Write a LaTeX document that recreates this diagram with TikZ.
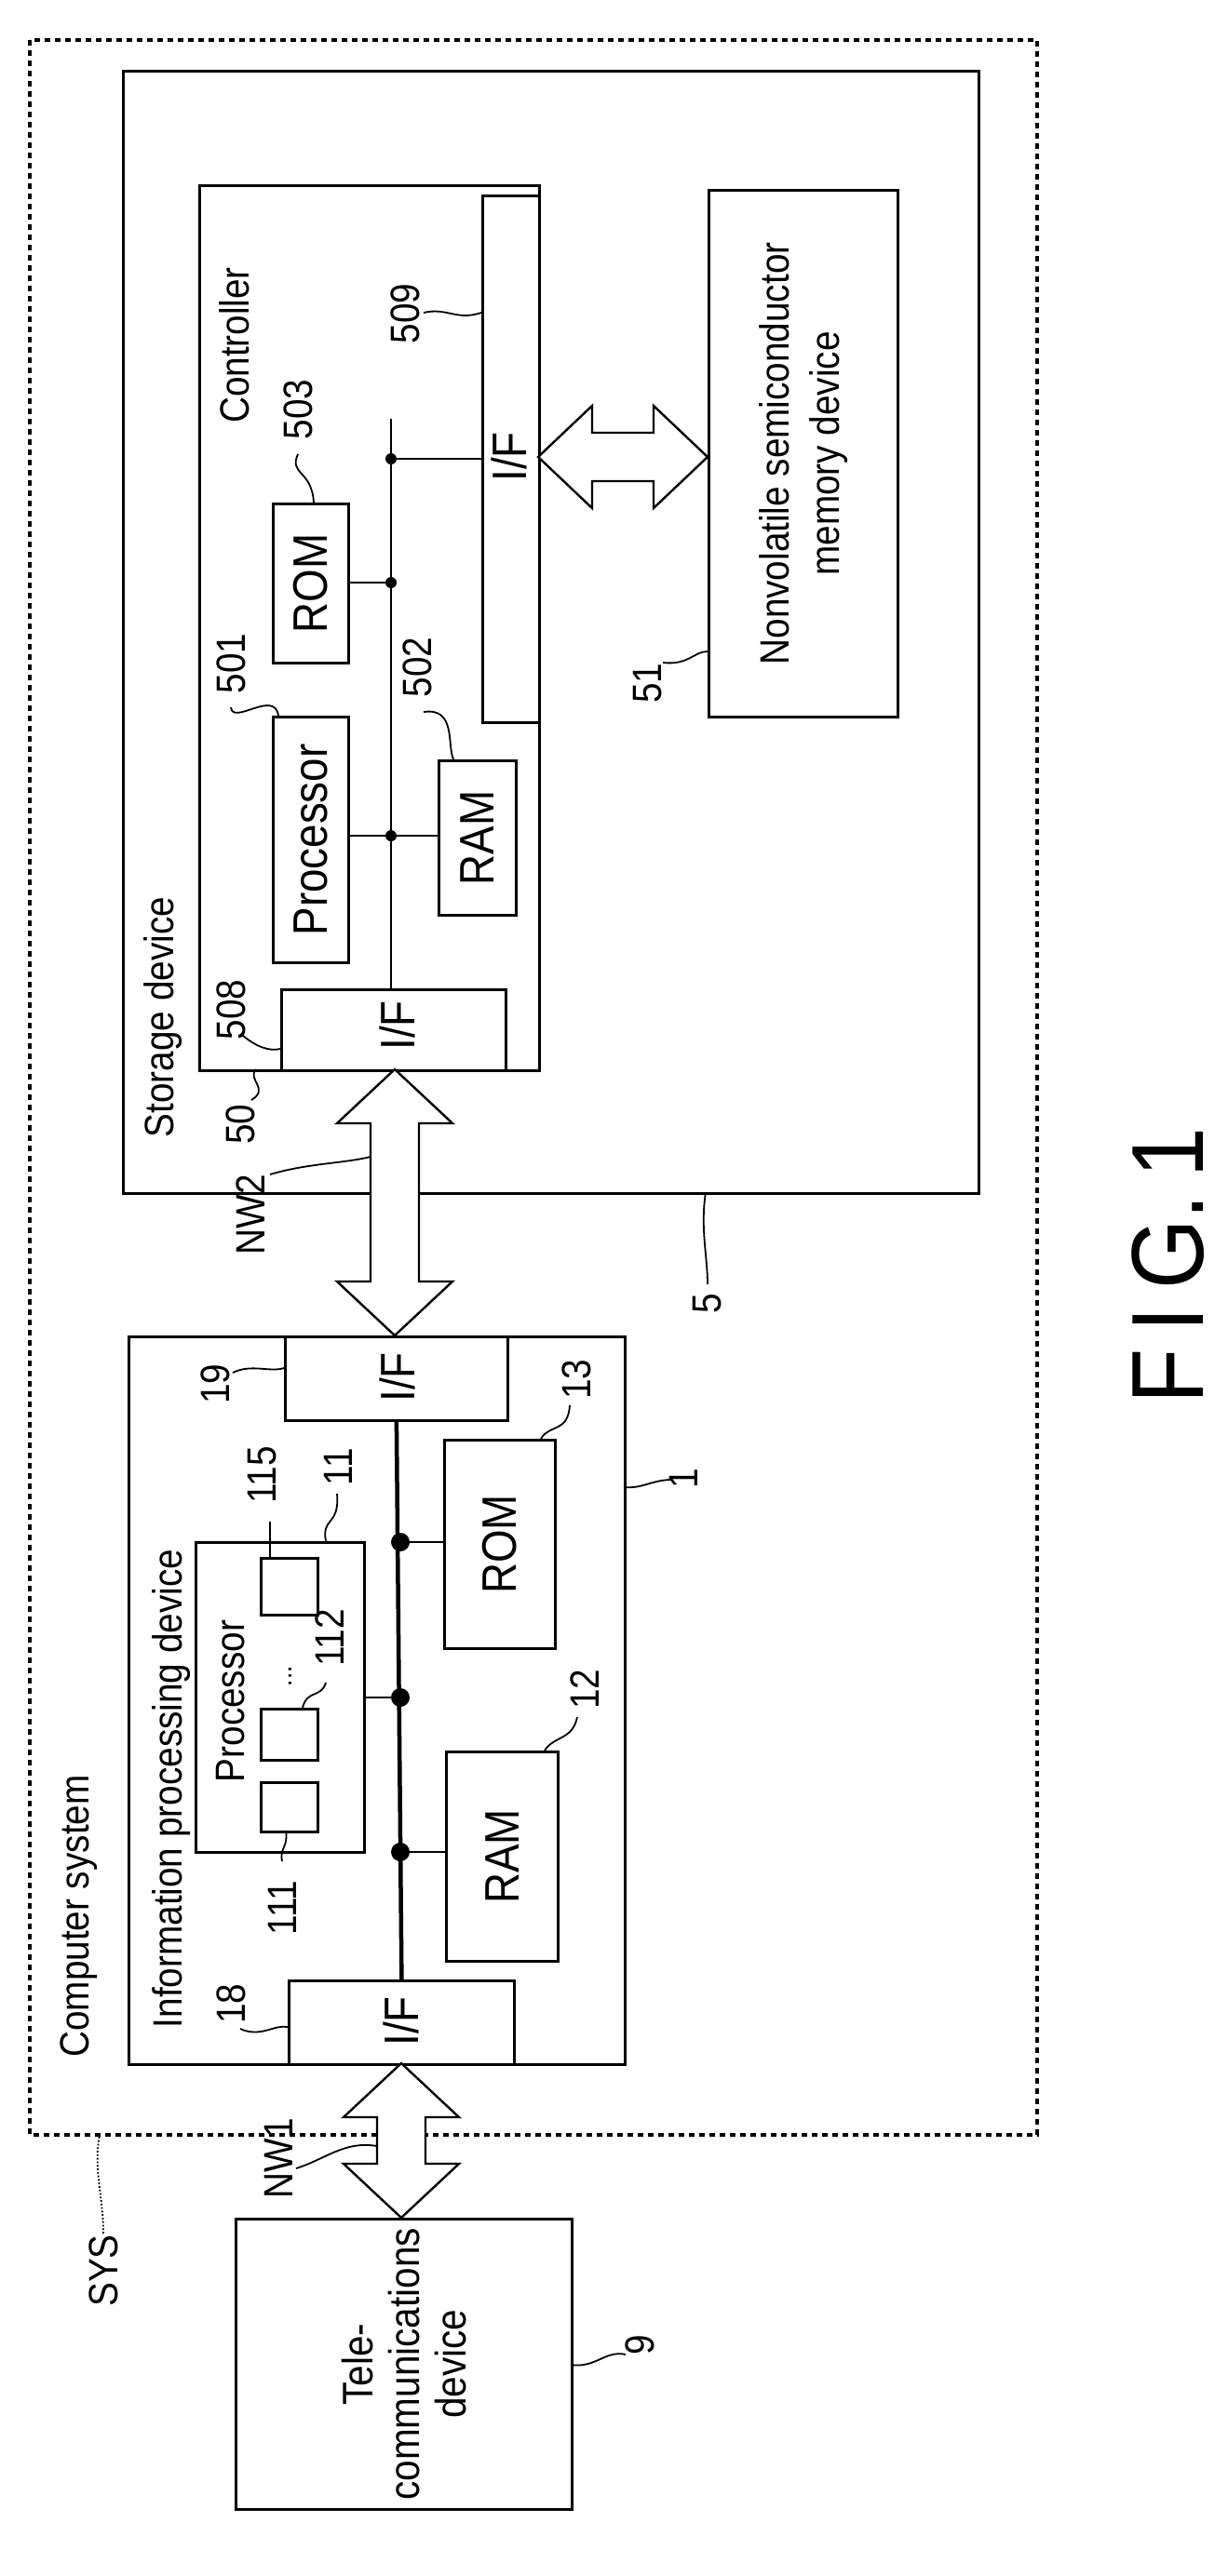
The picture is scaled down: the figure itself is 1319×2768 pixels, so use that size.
\documentclass[tikz,border=0pt]{standalone}
\usepackage{fontspec}
\setmainfont{Liberation Sans}[FakeStretch=0.88]
\begin{document}
\begin{tikzpicture}[x=1pt,y=-1pt,line width=2.8pt,
  lbl/.style={rotate=90,font=\fontsize{44}{48}\selectfont,inner sep=0},
  big/.style={rotate=90,font=\fontsize{52}{56}\selectfont,inner sep=0,align=center},
  lead/.style={line width=1.8pt},
  dot/.style={circle,fill,inner sep=0,minimum size=#1},
  arr/.style={draw,fill=white,line width=2.4pt,line join=miter}]
\useasboundingbox[fill=white] (0,0) rectangle (1319,2768);
\newcommand\bx[5]{\node[draw,anchor=north west,inner sep=0,minimum width={#4pt-#2pt},minimum height={#5pt-#3pt}] (#1) at (#2,#3) {};}
% outer dashed
\draw[dash pattern=on 6pt off 5pt,line width=3.2pt] (32,43) rectangle (1114,2294);
% storage device
\bx{sd}{131}{75}{1050}{1281}
\bx{ctl}{213}{198}{578}{1149}
\bx{p501}{292}{769}{373}{1033}
\bx{rom503}{292}{540}{373}{711}
\bx{ram502}{470}{816}{553}{982}
\bx{if508}{301}{1062}{542}{1149}
\bx{if509}{517}{209}{578}{775}
\bx{nvm}{760}{203}{963}{769}
\node[big] at (p501) {Processor};
\node[big] at (rom503) {ROM};
\node[big] at (ram502) {RAM};
\node[big] at (427,1102) {I/F};
\node[big] at (547,491) {I/F};
\node[big,font=\fontsize{44}{54}\selectfont] at (nvm) {Nonvolatile semiconductor\\memory device};
% controller bus
\coordinate (b0) at (420,450);
\draw (b0) -- (420,1062);
\draw (rom503.east |- 0,626) -- (420,626);
\draw (p501.east |- 0,898) -- (ram502.west |- 0,898);
\draw (420,493) -- (if509.west |- 0,493);
\node[dot=12pt] at (420,626) {};
\node[dot=12pt] at (420,898) {};
\node[dot=12pt] at (420,493) {};
% horizontal double arrow 509 <-> nvm
\path[arr] (578,491) -- (636,436) -- (636,465) -- (702,465) -- (702,436) -- (760,491) -- (702,546) -- (702,517) -- (636,517) -- (636,546) -- cycle;
% NW2 arrow
\path[arr] (424,1149) -- (486,1207) -- (450,1207) -- (450,1377) -- (486,1377) -- (424,1435) -- (362,1377) -- (398,1377) -- (398,1207) -- (362,1207) -- cycle;
% info processing device
\bx{ipd}{137}{1435}{670}{2217}
\bx{if19}{305}{1435}{544}{1525}
\bx{if18}{309}{2127}{551}{2217}
\bx{p11}{209}{1656}{390}{1989}
\bx{c111}{279}{1914}{340}{1967}
\bx{c112}{279}{1835}{340}{1890}
\bx{c115}{279}{1673}{340}{1734}
\bx{rom13}{476}{1546}{595}{1770}
\bx{ram12}{478}{1881}{598}{2106}
\node[big] at (427,1480) {I/F};
\node[big] at (431,2172) {I/F};
\node[big] at (rom13) {ROM};
\node[big] at (ram12) {RAM};
\node[lbl] at (248,1828) {Processor};
\node[lbl,font=\fontsize{30}{30}\selectfont] at (312,1801) {...};
\draw[line width=4.5pt] (if19.south) -- (if18.north);
\draw (p11.east |- 0,1824) -- (430,1824);
\draw (430,1657) -- (rom13.west |- 0,1657);
\draw (430,1990) -- (ram12.west |- 0,1990);
\node[dot=20pt] at (430,1657) {};
\node[dot=20pt] at (430,1824) {};
\node[dot=20pt] at (430,1990) {};
% telecom device
\bx{tel}{252}{2383}{613}{2695}
\node[big,font=\fontsize{46}{50}\selectfont] at (tel) {Tele-\\communications\\device};
% NW1 arrow
\path[arr] (431,2217) -- (493,2275) -- (457,2275) -- (457,2325) -- (493,2325) -- (431,2383) -- (369,2325) -- (405,2325) -- (405,2275) -- (369,2275) -- cycle;
% titles
\node[lbl] at (175,1093) {Storage device};
\node[lbl] at (252,371) {Controller};
\node[lbl] at (85,2059) {Computer system};
\node[lbl] at (184,1922) {Information processing device};
% reference labels and leaders
\node[lbl] (l509) at (435,337) {509}; \draw[lead] (455,336) .. controls (480,330) and (490,345) .. (517,336);
\node[lbl] (l503) at (320,440) {503}; \draw[lead] (320,488) .. controls (310,510) and (335,505) .. (337,540);
\node[lbl] (l501) at (248,713) {501}; \draw[lead] (248,760) .. controls (250,780) and (295,740) .. (299,769);
\node[lbl] (l502) at (448,717) {502}; \draw[lead] (455,765) .. controls (490,760) and (480,800) .. (487,816);
\node[lbl] (l508) at (248,1085) {508}; \draw[lead] (260,1112) .. controls (275,1125) and (290,1130) .. (301,1127);
\node[lbl] (l50) at (258,1208) {50}; \draw[lead] (270,1182) .. controls (290,1170) and (265,1160) .. (275,1149);
\node[lbl] (lnw2) at (269,1305) {NW2}; \draw[lead] (290,1262) .. controls (330,1250) and (370,1250) .. (398,1243);
\node[lbl] (l51) at (696,734) {51}; \draw[lead] (712,712) .. controls (740,715) and (745,700) .. (760,700);
\node[lbl] (l5) at (760,1401) {5}; \draw[lead] (760,1380) .. controls (760,1350) and (752,1320) .. (758,1281);
\node[lbl] (l19) at (231,1487) {19}; \draw[lead] (250,1475) .. controls (270,1465) and (290,1475) .. (305,1470);
\node[lbl] (l115) at (282,1585) {115}; \draw[lead] (290,1635) -- (290,1673);
\node[lbl] (l11) at (363,1576) {11}; \draw[lead] (362,1605) .. controls (365,1640) and (345,1630) .. (350,1656);
\node[lbl] (l112) at (354,1760) {112}; \draw[lead] (350,1808) .. controls (345,1825) and (330,1815) .. (325,1835);
\node[lbl] (l111) at (303,2050) {111}; \draw[lead] (303,2000) .. controls (300,1985) and (310,1985) .. (307,1967);
\node[lbl] (l13) at (619,1482) {13}; \draw[lead] (612,1510) .. controls (610,1540) and (590,1530) .. (581,1546);
\node[lbl] (l12) at (628,1815) {12}; \draw[lead] (620,1845) .. controls (615,1870) and (595,1865) .. (585,1881);
\node[lbl] (l1) at (734,1589) {1}; \draw[lead] (722,1590) .. controls (700,1590) and (690,1600) .. (670,1598);
\node[lbl] (l18) at (248,2153) {18}; \draw[lead] (258,2180) .. controls (280,2190) and (295,2175) .. (309,2178);
\node[lbl] (lnw1) at (299,2319) {NW1}; \draw[lead] (318,2330) .. controls (350,2320) and (370,2300) .. (405,2306);
\node[lbl] (lsys) at (111,2440) {SYS}; \draw[lead,dotted] (111,2400) .. controls (111,2360) and (100,2330) .. (107,2294);
\node[lbl] (l9) at (687,2520) {9}; \draw[lead] (672,2530) .. controls (650,2525) and (640,2545) .. (613,2541);
% figure caption
\node[rotate=90,font=\fontsize{110}{110}\selectfont,inner sep=0] at (1255,1360) {F\,I\,G.\,1};
\end{tikzpicture}
\end{document}
